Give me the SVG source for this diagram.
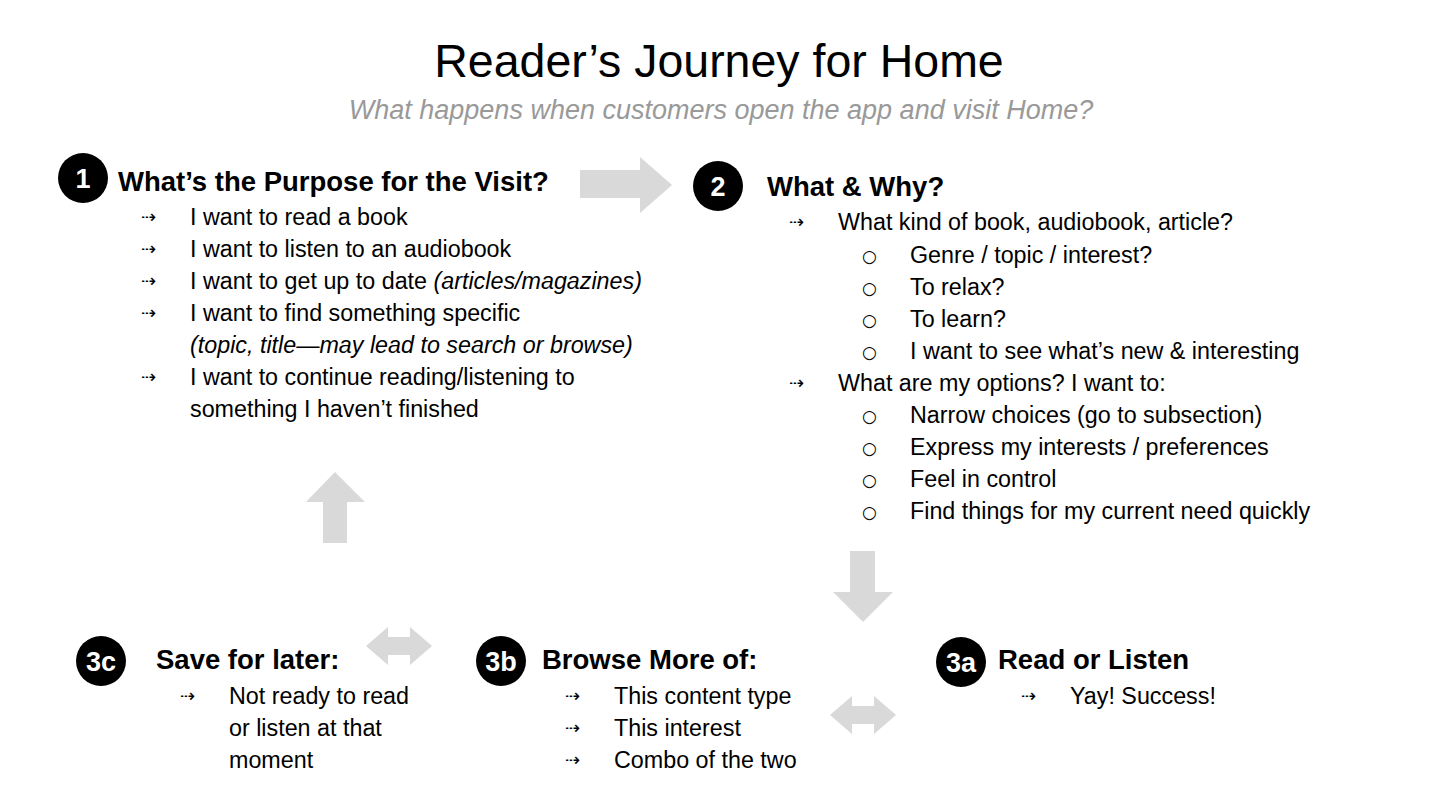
<svg xmlns="http://www.w3.org/2000/svg" width="1436" height="810" viewBox="0 0 1436 810">
<style>
text{font-family:"Liberation Sans",Arial,sans-serif;fill:#000}
.t{font-size:46.5px}
.s{font-size:27px;font-style:italic;fill:#999}
.h{font-size:27.5px;font-weight:bold}
.b{font-size:23.3px}
.i{font-style:italic}
.bl{font-size:18px;font-family:"DejaVu Sans",sans-serif}
.o{font-size:17px;font-family:"DejaVu Sans",sans-serif}
.n{font-size:27px;font-weight:bold;fill:#fff;text-anchor:middle}
.ar{fill:#d9d9d9}
</style>
<rect width="1436" height="810" fill="#fff"/>
<text class="t" x="719" y="77" text-anchor="middle">Reader’s Journey for Home</text>
<text class="s" x="721" y="119" text-anchor="middle">What happens when customers open the app and visit Home?</text>
<g id="connectors">
<polygon class="ar" points="580,170 640,170 640,157 672,185 640,213 640,198 580,198"/>
<polygon class="ar" points="335,472 365,502 347,502 347,543 323,543 323,502 306,502"/>
<polygon class="ar" points="850,551 875,551 875,592 893,592 863,622 833,592 850,592"/>
<polygon class="ar" points="366,646 388,627 388,637 410,637 410,627 432,646 410,665 410,655 388,655 388,665"/>
<polygon class="ar" points="830,715 852,696 852,706 874,706 874,696 896,715 874,734 874,724 852,724 852,734"/>
</g>
<g id="node1">
<circle cx="83" cy="178" r="25" fill="#000"/><text class="n" x="83" y="188">1</text>
<text class="h" x="118" y="191">What’s the Purpose for the Visit?</text>
<text class="bl" x="141" y="223">⇢</text><text class="b" x="190" y="225">I want to read a book</text>
<text class="bl" x="141" y="255">⇢</text><text class="b" x="190" y="257">I want to listen to an audiobook</text>
<text class="bl" x="141" y="287">⇢</text><text class="b" x="190" y="289">I want to get up to date <tspan class="i">(articles/magazines)</tspan></text>
<text class="bl" x="141" y="319">⇢</text><text class="b" x="190" y="321">I want to find something specific</text>
<text class="b i" x="190" y="353">(topic, title—may lead to search or browse)</text>
<text class="bl" x="141" y="383">⇢</text><text class="b" x="190" y="385">I want to continue reading/listening to</text>
<text class="b" x="190" y="417">something I haven’t finished</text>
</g>
<g id="node2">
<circle cx="718" cy="186" r="25" fill="#000"/><text class="n" x="718" y="196">2</text>
<text class="h" x="767" y="196">What &amp; Why?</text>
<text class="bl" x="789" y="228">⇢</text><text class="b" x="838" y="230">What kind of book, audiobook, article?</text>
<text class="o" x="862" y="262">○</text><text class="b" x="910" y="263">Genre / topic / interest?</text>
<text class="o" x="862" y="294">○</text><text class="b" x="910" y="295">To relax?</text>
<text class="o" x="862" y="326">○</text><text class="b" x="910" y="327">To learn?</text>
<text class="o" x="862" y="358">○</text><text class="b" x="910" y="359">I want to see what’s new &amp; interesting</text>
<text class="bl" x="789" y="389">⇢</text><text class="b" x="838" y="391">What are my options? I want to:</text>
<text class="o" x="862" y="422">○</text><text class="b" x="910" y="423">Narrow choices (go to subsection)</text>
<text class="o" x="862" y="454">○</text><text class="b" x="910" y="455">Express my interests / preferences</text>
<text class="o" x="862" y="486">○</text><text class="b" x="910" y="487">Feel in control</text>
<text class="o" x="862" y="518">○</text><text class="b" x="910" y="519">Find things for my current need quickly</text>
</g>
<g id="node3c">
<circle cx="101" cy="661" r="25" fill="#000"/><text class="n" x="101" y="671">3c</text>
<text class="h" x="156" y="669">Save for later:</text>
<text class="bl" x="180" y="702">⇢</text><text class="b" x="229" y="704">Not ready to read</text>
<text class="b" x="229" y="736">or listen at that</text>
<text class="b" x="229" y="768">moment</text>
</g>
<g id="node3b">
<circle cx="501" cy="661" r="25" fill="#000"/><text class="n" x="501" y="671">3b</text>
<text class="h" x="542" y="669">Browse More of:</text>
<text class="bl" x="565" y="702">⇢</text><text class="b" x="614" y="704">This content type</text>
<text class="bl" x="565" y="734">⇢</text><text class="b" x="614" y="736">This interest</text>
<text class="bl" x="565" y="766">⇢</text><text class="b" x="614" y="768">Combo of the two</text>
</g>
<g id="node3a">
<circle cx="961" cy="662" r="25" fill="#000"/><text class="n" x="961" y="672">3a</text>
<text class="h" x="998" y="669">Read or Listen</text>
<text class="bl" x="1021" y="702">⇢</text><text class="b" x="1070" y="704">Yay! Success!</text>
</g>
</svg>
